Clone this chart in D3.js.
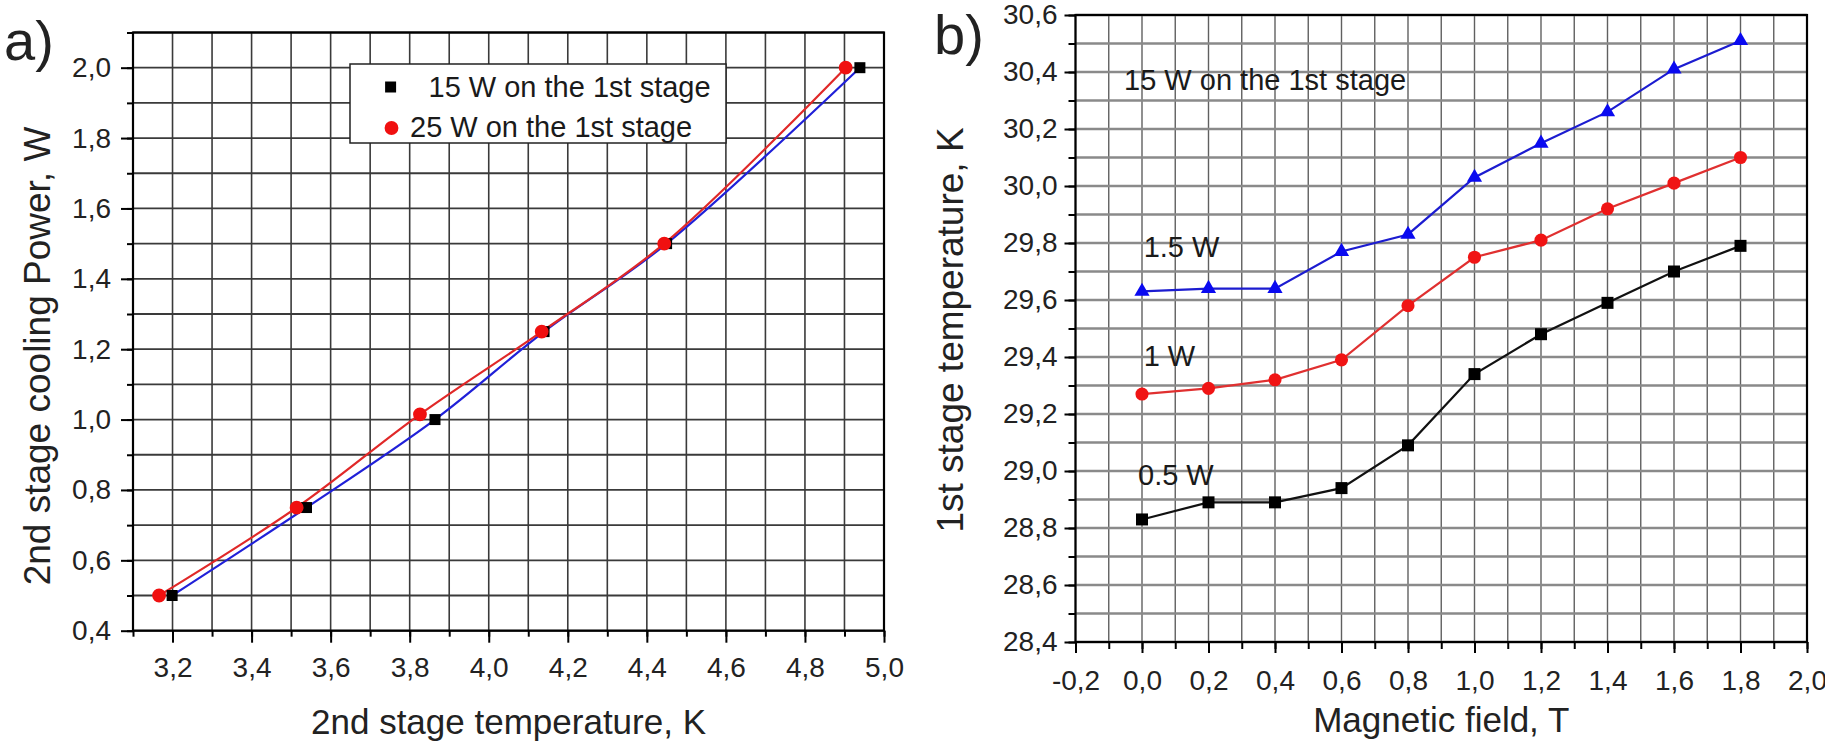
<!DOCTYPE html>
<html>
<head>
<meta charset="utf-8">
<script src="https://cdn.jsdelivr.net/npm/d3@7"></script>
<style>
  body { margin: 0; background: #fff; }
  svg { display: block; font-family: "Liberation Sans", Arial, sans-serif; }
</style>
</head>
<body>
<svg id="chart" width="1825" height="749"></svg>
<script>
// a) cooling power of the 2nd stage vs its temperature
var powerLevels = [0.5, 0.75, 1.0, 1.25, 1.5, 2.0];
var power25W = [0.5, 0.75, 1.015, 1.25, 1.5, 2.0];
var temp15W = [3.199, 3.539, 3.864, 4.140, 4.450, 4.939];
var temp25W = [3.166, 3.514, 3.826, 4.134, 4.444, 4.903];

// b) 1st stage temperature vs magnetic field
var fieldValues = [0.0, 0.2, 0.4, 0.6, 0.8, 1.0, 1.2, 1.4, 1.6, 1.8];
var temp05W = [28.83, 28.89, 28.89, 28.94, 29.09, 29.34, 29.48, 29.59, 29.70, 29.79];
var temp1W = [29.27, 29.29, 29.32, 29.39, 29.58, 29.75, 29.81, 29.92, 30.01, 30.10];
var temp15Wb = [29.63, 29.64, 29.64, 29.77, 29.83, 30.03, 30.15, 30.26, 30.41, 30.51];

var ticksAx = [3.2, 3.4, 3.6, 3.8, 4.0, 4.2, 4.4, 4.6, 4.8, 5.0];
var ticksAy = [0.4, 0.6, 0.8, 1.0, 1.2, 1.4, 1.6, 1.8, 2.0];
var ticksBx = [-0.2, 0.0, 0.2, 0.4, 0.6, 0.8, 1.0, 1.2, 1.4, 1.6, 1.8, 2.0];
var ticksBy = [28.4, 28.6, 28.8, 29.0, 29.2, 29.4, 29.6, 29.8, 30.0, 30.2, 30.4, 30.6];

var commaFmt = function(d) { return d3.format(".1f")(d).replace(".", ",").replace("\u2212", "-"); };
var tenths = function(dom) {
  return d3.range(Math.round(dom[0] * 10), Math.round(dom[1] * 10) + 1).map(function(d) { return d / 10; });
};

function PanelDrawer(svg, box, xDomain, yDomain) {
  this.svg = svg;
  this.box = box;
  this.xDomain = xDomain;
  this.yDomain = yDomain;
  this.x = d3.scaleLinear().domain(xDomain).range([box.left, box.right]);
  this.y = d3.scaleLinear().domain(yDomain).range([box.bottom, box.top]);
  this.g = svg.append("g");
}

PanelDrawer.prototype.drawGrid = function(vStyle, hStyle) {
  var x = this.x, y = this.y, b = this.box;
  this.g.append("g").selectAll("line").data(tenths(this.xDomain)).join("line")
    .attr("x1", x).attr("x2", x).attr("y1", b.top).attr("y2", b.bottom)
    .attr("stroke", vStyle.color).attr("stroke-width", vStyle.width);
  this.g.append("g").selectAll("line").data(tenths(this.yDomain)).join("line")
    .attr("y1", y).attr("y2", y).attr("x1", b.left).attr("x2", b.right)
    .attr("stroke", hStyle.color).attr("stroke-width", hStyle.width);
};

PanelDrawer.prototype.drawAxes = function(xTicks, yTicks, opt) {
  var b = this.box;
  var styleAxis = function(sel) {
    sel.select(".domain").remove();
    sel.selectAll("line").attr("stroke", "#000").attr("stroke-width", 2);
    sel.selectAll("text").attr("fill", "#222").attr("font-size", opt.tickFont)
      .attr("font-family", "Liberation Sans, Arial, sans-serif");
  };
  this.g.append("g").attr("transform", "translate(0," + b.bottom + ")")
    .call(d3.axisBottom(this.x).tickValues(tenths(this.xDomain)).tickSize(opt.minor).tickFormat(""))
    .call(styleAxis);
  this.g.append("g").attr("transform", "translate(" + b.left + ",0)")
    .call(d3.axisLeft(this.y).tickValues(tenths(this.yDomain)).tickSize(opt.minor).tickFormat(""))
    .call(styleAxis);
  this.g.append("g").attr("transform", "translate(0," + b.bottom + ")")
    .call(d3.axisBottom(this.x).tickValues(xTicks).tickSize(opt.major).tickPadding(opt.xPad).tickFormat(commaFmt))
    .call(styleAxis);
  this.g.append("g").attr("transform", "translate(" + b.left + ",0)")
    .call(d3.axisLeft(this.y).tickValues(yTicks).tickSize(opt.major).tickPadding(opt.yPad).tickFormat(commaFmt))
    .call(styleAxis);
  this.g.append("rect").attr("x", b.left).attr("y", b.top)
    .attr("width", b.right - b.left).attr("height", b.bottom - b.top)
    .attr("fill", "none").attr("stroke", "#000").attr("stroke-width", 2.2);
};

PanelDrawer.prototype.drawTitles = function(xTitle, yTitle, xBase, yBase, tag, tagPos) {
  var b = this.box;
  this.g.append("text").text(xTitle).attr("x", (b.left + b.right) / 2).attr("y", xBase)
    .attr("text-anchor", "middle").attr("font-size", 35).attr("fill", "#222");
  this.g.append("text").text(yTitle).attr("text-anchor", "middle").attr("font-size", 37).attr("fill", "#222")
    .attr("transform", "translate(" + yBase[0] + "," + yBase[1] + ") rotate(-90)");
  this.g.append("text").text(tag).attr("x", tagPos[0]).attr("y", tagPos[1])
    .attr("font-size", 56).attr("fill", "#222");
};

PanelDrawer.prototype.drawSeries = function(xs, ys, color, curve) {
  var x = this.x, y = this.y;
  var line = d3.line().x(function(i) { return x(xs[i]); }).y(function(i) { return y(ys[i]); }).curve(curve);
  this.g.append("path").attr("d", line(d3.range(xs.length)))
    .attr("fill", "none").attr("stroke", color).attr("stroke-width", 2.2);
};

PanelDrawer.prototype.drawMarkers = function(xs, ys, shape, color, size) {
  var x = this.x, y = this.y;
  this.g.append("g").selectAll("path").data(d3.range(xs.length)).join("path")
    .attr("transform", function(i) { return "translate(" + x(xs[i]) + "," + y(ys[i]) + ")"; })
    .attr("d", d3.symbol().type(shape).size(size)())
    .attr("fill", color);
};

PanelDrawer.prototype.drawLabel = function(text, xv, yv, size) {
  this.g.append("text").text(text).attr("x", this.x(xv)).attr("y", this.y(yv))
    .attr("font-size", size).attr("fill", "#1a1a1a");
};

var svg = d3.select("#chart");

// ---------- panel a ----------
var panelA = new PanelDrawer(svg, {left: 133, right: 884, top: 32.5, bottom: 630.7}, [3.1, 5.0], [0.4, 2.1]);
panelA.drawGrid({color: "#3a3a3a", width: 1.6}, {color: "#3a3a3a", width: 1.8});
panelA.drawAxes(ticksAx, ticksAy, {major: 12, minor: 6, xPad: 14, yPad: 10, tickFont: 28});
panelA.drawSeries(temp15W, powerLevels, "#2020d8", d3.curveCatmullRom);
panelA.drawSeries(temp25W, power25W, "#e02828", d3.curveCatmullRom);
panelA.drawMarkers(temp15W, powerLevels, d3.symbolSquare, "#000", 121);
panelA.drawMarkers(temp25W, power25W, d3.symbolCircle, "#f01010", 150);
panelA.drawTitles("2nd stage temperature, K", "2nd stage cooling Power, W", 734, [50, 356], "a)", [4, 60]);

var legend = panelA.g.append("g").attr("transform", "translate(350,64)");
legend.append("rect").attr("width", 376).attr("height", 79)
  .attr("fill", "#fff").attr("stroke", "#222").attr("stroke-width", 1.5);
legend.append("path").attr("transform", "translate(40.6,23)")
  .attr("d", d3.symbol().type(d3.symbolSquare).size(121)()).attr("fill", "#000");
legend.append("text").text("15 W on the 1st stage").attr("x", 78.5).attr("y", 33)
  .attr("font-size", 29).attr("fill", "#1a1a1a");
legend.append("path").attr("transform", "translate(41.5,64)")
  .attr("d", d3.symbol().type(d3.symbolCircle).size(150)()).attr("fill", "#f01010");
legend.append("text").text("25 W on the 1st stage").attr("x", 60).attr("y", 73)
  .attr("font-size", 29).attr("fill", "#1a1a1a");

// ---------- panel b ----------
var panelB = new PanelDrawer(svg, {left: 1075.5, right: 1807, top: 15, bottom: 642}, [-0.2, 2.0], [28.4, 30.6]);
panelB.drawGrid({color: "#606060", width: 1.4}, {color: "#8a8a8a", width: 2.4});
panelB.drawAxes(ticksBx, ticksBy, {major: 11, minor: 7, xPad: 17, yPad: 7, tickFont: 28});
panelB.drawSeries(fieldValues, temp05W, "#111", d3.curveLinear);
panelB.drawSeries(fieldValues, temp1W, "#e03030", d3.curveLinear);
panelB.drawSeries(fieldValues, temp15Wb, "#1c1cd0", d3.curveLinear);
panelB.drawMarkers(fieldValues, temp05W, d3.symbolSquare, "#000", 144);
panelB.drawMarkers(fieldValues, temp1W, d3.symbolCircle, "#f01414", 135);
panelB.drawMarkers(fieldValues, temp15Wb, d3.symbolTriangle, "#0a0af0", 100);
panelB.drawTitles("Magnetic field, T", "1st stage temperature, K", 732, [963, 330], "b)", [934, 54]);
panelB.drawLabel("15 W on the 1st stage", -0.054, 30.336, 29);
panelB.drawLabel("1.5 W", 0.005, 29.75, 29);
panelB.drawLabel("1 W", 0.005, 29.37, 29);
panelB.drawLabel("0.5 W", -0.012, 28.95, 29);
</script>
</body>
</html>
